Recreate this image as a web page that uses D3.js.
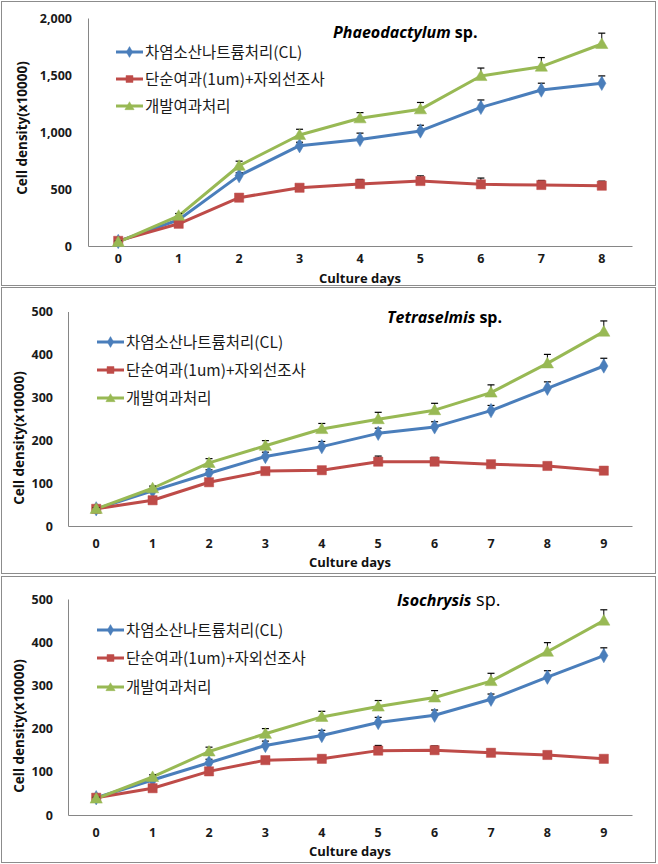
<!DOCTYPE html>
<html><head><meta charset="utf-8">
<script src="https://cdn.jsdelivr.net/npm/d3@7/dist/d3.min.js"></script>
<style>
body{margin:0;background:#fff;}
svg{display:block;}
</style></head>
<body>
<svg id="chart" width="658" height="864"></svg>
<script>
// ---- data ----
const seriesNames = ["차염소산나트륨처리(CL)", "단순여과(1um)+자외선조사", "개발여과처리"];
const seriesColors = ["#4A7EBB", "#BE4B48", "#98B954"];

const days1 = [0,1,2,3,4,5,6,7,8];
const phaeoCL   = [40, 230, 617, 880, 935, 1009, 1216, 1368, 1427];
const phaeoUV   = [45, 195, 424, 511, 544, 570, 541, 535, 529];
const phaeoDev  = [35, 265, 704, 974, 1120, 1199, 1491, 1573, 1772];
const phaeoCLErr  = [10, 20, 25, 30, 55, 50, 65, 60, 65];
const phaeoUVErr  = [10, 15, 20, 25, 40, 45, 55, 40, 40];
const phaeoDevErr = [10, 20, 40, 50, 50, 60, 70, 80, 95];
const phaeoTicks = [0, 500, 1000, 1500, 2000];

const days2 = [0,1,2,3,4,5,6,7,8,9];
const tetraCL   = [40, 82, 123, 162, 185, 216, 231, 269, 321, 373];
const tetraUV   = [40, 60, 102, 128, 130, 150, 150, 144, 140, 129];
const tetraDev  = [40, 88, 147, 187, 226, 249, 270, 311, 379, 453];
const tetraCLErr  = [3, 5, 8, 10, 12, 12, 12, 12, 15, 18];
const tetraUVErr  = [3, 4, 5, 6, 8, 13, 10, 8, 8, 8];
const tetraDevErr = [3, 5, 10, 12, 13, 16, 16, 18, 21, 25];
const tetraTicks = [0, 100, 200, 300, 400, 500];

const isoCL   = [40, 81, 121, 161, 184, 214, 231, 268, 319, 369];
const isoUV   = [40, 62, 101, 127, 130, 149, 150, 144, 139, 130];
const isoDev  = [38, 88, 147, 188, 227, 251, 272, 310, 378, 450];
const isoCLErr  = [3, 5, 8, 10, 12, 12, 12, 12, 15, 18];
const isoUVErr  = [3, 4, 5, 6, 8, 12, 10, 8, 8, 6];
const isoDevErr = [3, 5, 10, 12, 13, 14, 16, 18, 21, 25];
const isoTicks = [0, 100, 200, 300, 400, 500];

const svg = d3.select("#chart");
const KR = "'Noto Sans CJK KR', sans-serif";
const NUM = "'Open Sans', 'Noto Sans', sans-serif";

function panel(cfg) {
  const g = svg.append("g");
  // border
  g.append("rect").attr("x", cfg.box[0]+0.5).attr("y", cfg.box[1]+0.5)
    .attr("width", cfg.box[2]).attr("height", cfg.box[3])
    .attr("fill", "#fff").attr("stroke", "#8c8c8c").attr("stroke-width", 1);

  const x = d3.scaleBand().domain(cfg.days).range([cfg.left, cfg.right]);
  const y = d3.scaleLinear().domain([0, cfg.ymax]).range([cfg.bottom, cfg.top]);
  const cx = d => x(d) + x.bandwidth()/2;

  // y axis
  const ya = g.append("g").attr("transform", `translate(${cfg.left},0)`)
    .call(d3.axisLeft(y).tickValues(cfg.ticks).tickSize(0).tickPadding(cfg.yPad)
      .tickFormat(d3.format(",")));
  ya.select(".domain").attr("stroke", "#868686").attr("stroke-width", 1);
  ya.selectAll("text").attr("font-family", NUM).attr("font-weight", "bold")
    .attr("font-size", 12.5).attr("fill", "#1a1a1a");

  // x axis
  const xa = g.append("g").attr("transform", `translate(0,${cfg.bottom})`)
    .call(d3.axisBottom(x).tickSize(0).tickPadding(cfg.xPad));
  xa.select(".domain").attr("stroke", "#868686").attr("stroke-width", 1);
  xa.selectAll("text").attr("font-family", NUM).attr("font-weight", "bold")
    .attr("font-size", 12.5).attr("fill", "#1a1a1a");

  // axis titles
  g.append("text").attr("x", (cfg.left+cfg.right)/2).attr("y", cfg.xTitleY)
    .attr("text-anchor", "middle").attr("font-family", NUM).attr("font-weight", "bold")
    .attr("font-size", 13).attr("fill", "#111").text("Culture days");
  g.append("text").attr("transform", `translate(${cfg.yTitleX},${cfg.yTitleY}) rotate(-90)`)
    .attr("text-anchor", "middle").attr("font-family", NUM).attr("font-weight", "bold")
    .attr("font-size", 13.5).attr("fill", "#111").text("Cell density(x10000)");

  // series
  const line = d3.line().x((d, i) => cx(cfg.days[i])).y(d => y(d));
  cfg.series.forEach((s, si) => {
    g.append("path").datum(s.values).attr("d", line)
      .attr("fill", "none").attr("stroke", seriesColors[si]).attr("stroke-width", 3)
      .attr("stroke-linejoin", "round");
  });
  cfg.series.forEach((s, si) => {
    // error bars
    const eb = g.append("g");
    s.values.forEach((v, i) => {
      const px = cx(cfg.days[i]);
      eb.append("line").attr("x1", px).attr("x2", px).attr("y1", y(v)).attr("y2", y(v + s.err[i]))
        .attr("stroke", "#000").attr("stroke-width", 1);
      eb.append("line").attr("x1", px-3.5).attr("x2", px+3.5).attr("y1", y(v + s.err[i])).attr("y2", y(v + s.err[i]))
        .attr("stroke", "#000").attr("stroke-width", 1.2);
    });
    // markers
    s.values.forEach((v, i) => {
      drawMarker(g, si, cx(cfg.days[i]), y(v), 1);
    });
  });

  // legend
  cfg.legendY.forEach((ly, i) => {
    g.append("line").attr("x1", cfg.legendX).attr("x2", cfg.legendX + 27)
      .attr("y1", ly).attr("y2", ly).attr("stroke", seriesColors[i]).attr("stroke-width", 3);
    drawMarker(g, i, cfg.legendX + 13.5, ly, 0.75);
    g.append("text").attr("x", cfg.legendX + 29).attr("y", ly).attr("dy", "0.36em")
      .attr("font-family", KR).attr("font-size", 15.5).attr("fill", "#1a1a1a")
      .text(seriesNames[i]);
  });

  // title
  const t = g.append("text").attr("x", cfg.titleX).attr("y", cfg.titleY)
    .attr("font-family", NUM).attr("font-size", 16).attr("font-weight", "bold").attr("fill", "#000");
  t.append("tspan").attr("font-style", "italic").text(cfg.title);
  t.append("tspan").attr("font-weight", cfg.spBold ? "bold" : "normal")
    .attr("font-size", cfg.spSize || 16).text(" sp.");
}

function drawMarker(g, si, px, py, k) {
  const c = seriesColors[si];
  if (si === 0) {
    g.append("path").attr("d", d3.symbol(d3.symbolDiamond, 60*k*k)())
      .attr("transform", `translate(${px},${py})`).attr("fill", c).attr("stroke", c).attr("stroke-width", 0.5);
  } else if (si === 1) {
    g.append("path").attr("d", d3.symbol(d3.symbolSquare, 85*k*k)())
      .attr("transform", `translate(${px},${py})`).attr("fill", c).attr("stroke", c).attr("stroke-width", 0.5);
  } else {
    g.append("path").attr("d", d3.symbol(d3.symbolTriangle, 65*k*k)())
      .attr("transform", `translate(${px},${py+1})`).attr("fill", c).attr("stroke", c).attr("stroke-width", 0.5);
  }
}

panel({
  box: [1, 1, 654, 284], days: days1, ymax: 2000, ticks: phaeoTicks,
  left: 88, right: 632, top: 18, bottom: 246, yPad: 16, xPad: 8,
  xTitleY: 283, yTitleX: 27, yTitleY: 128,
  legendX: 116, legendY: [52, 79, 106],
  title: "Phaeodactylum", titleX: 333, titleY: 38, spBold: true,
  series: [
    {values: phaeoCL, err: phaeoCLErr},
    {values: phaeoUV, err: phaeoUVErr},
    {values: phaeoDev, err: phaeoDevErr}
  ]
});

panel({
  box: [1, 287, 654, 286], days: days2, ymax: 500, ticks: tetraTicks,
  left: 68, right: 632, top: 311.5, bottom: 526, yPad: 15, xPad: 13,
  xTitleY: 567, yTitleX: 24, yTitleY: 438,
  legendX: 97, legendY: [342, 370, 398],
  title: "Tetraselmis", titleX: 387, titleY: 323, spBold: true,
  series: [
    {values: tetraCL, err: tetraCLErr},
    {values: tetraUV, err: tetraUVErr},
    {values: tetraDev, err: tetraDevErr}
  ]
});

panel({
  box: [1, 576, 654, 286], days: days2, ymax: 500, ticks: isoTicks,
  left: 68, right: 632, top: 599, bottom: 815, yPad: 15, xPad: 13,
  xTitleY: 856, yTitleX: 24, yTitleY: 726,
  legendX: 97, legendY: [630, 658, 687],
  title: "Isochrysis", titleX: 397, titleY: 606, spBold: false, spSize: 18,
  series: [
    {values: isoCL, err: isoCLErr},
    {values: isoUV, err: isoUVErr},
    {values: isoDev, err: isoDevErr}
  ]
});
</script>
</body></html>
